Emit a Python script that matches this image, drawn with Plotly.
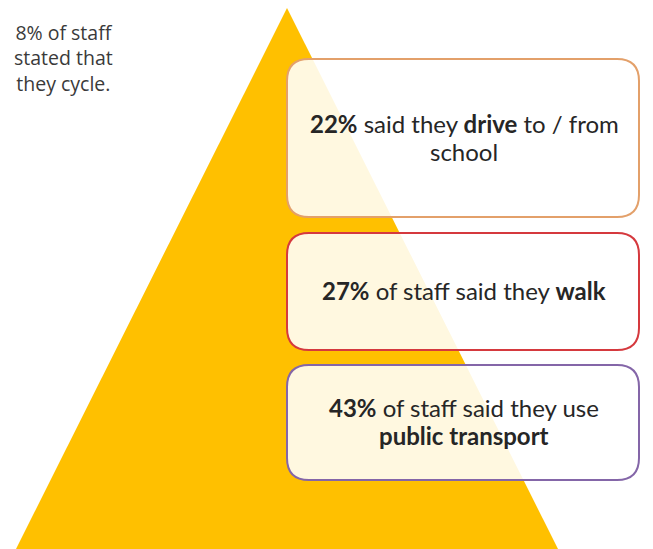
import plotly.graph_objects as go

# ---- data ----
modes = ["drive", "walk", "public transport"]
percents = [22, 27, 43]
box_lines = [
    ["<b>22%</b> said they <b>drive</b> to / from", "school"],
    ["<b>27%</b> of staff said they <b>walk</b>"],
    ["<b>43%</b> of staff said they use", "<b>public transport</b>"],
]
border_colors = ["#E3A06A", "#D5393E", "#8466A8"]
cycle_lines = ["8% of staff", "stated that", "they cycle."]

# ---- layout geometry (pixel-like coordinates) ----
W, H = 653, 549
tri_x = [16, 287, 558, 16]
tri_y = [549, 8, 549, 549]
boxes = [(287, 639, 59, 217), (287, 639, 233, 350), (287, 639, 365, 480)]
line_gap = 28
r = 22

def rounded(x0, x1, y0, y1, r):
    return (f"M {x0+r},{y0} L {x1-r},{y0} Q {x1},{y0} {x1},{y0+r} "
            f"L {x1},{y1-r} Q {x1},{y1} {x1-r},{y1} L {x0+r},{y1} "
            f"Q {x0},{y1} {x0},{y1-r} L {x0},{y0+r} Q {x0},{y0} {x0+r},{y0} Z")

fig = go.Figure()
fig.add_trace(go.Scatter(x=tri_x, y=tri_y, fill="toself", mode="lines",
                         line=dict(width=0), fillcolor="#FFC000",
                         hoverinfo="skip", showlegend=False))

shapes = []
for (x0, x1, y0, y1), c in zip(boxes, border_colors):
    shapes.append(dict(type="path", path=rounded(x0, x1, y0, y1, r),
                       xref="x", yref="y", fillcolor="rgba(255,255,255,0.88)",
                       line=dict(color=c, width=2), layer="above"))

annotations = []
for (x0, x1, y0, y1), lines in zip(boxes, box_lines):
    cy = (y0 + y1) / 2 - 1
    n = len(lines)
    for i, t in enumerate(lines):
        yy = cy + (i - (n - 1) / 2) * line_gap
        annotations.append(dict(x=(x0 + x1) / 2 + 1, y=yy, xref="x", yref="y",
                                text=t, showarrow=False, align="center",
                                font=dict(family="Lato", size=24, color="#262626")))

annotations.append(dict(x=115, y=58, xref="x", yref="y", xanchor="right",
                        text="<br>".join(cycle_lines), showarrow=False, align="center",
                        font=dict(family="Open Sans", size=19.5, color="#3A3A3A")))

fig.update_layout(
    width=W, height=H, margin=dict(l=0, r=0, t=0, b=0),
    paper_bgcolor="white", plot_bgcolor="white",
    xaxis=dict(range=[0, W], visible=False, fixedrange=True),
    yaxis=dict(range=[H, 0], visible=False, fixedrange=True),
    shapes=shapes, annotations=annotations, showlegend=False,
)
fig.write_html("out.html", config={"displayModeBar": False},
               post_script="document.body.style.margin='0';document.body.style.overflow='hidden';")
